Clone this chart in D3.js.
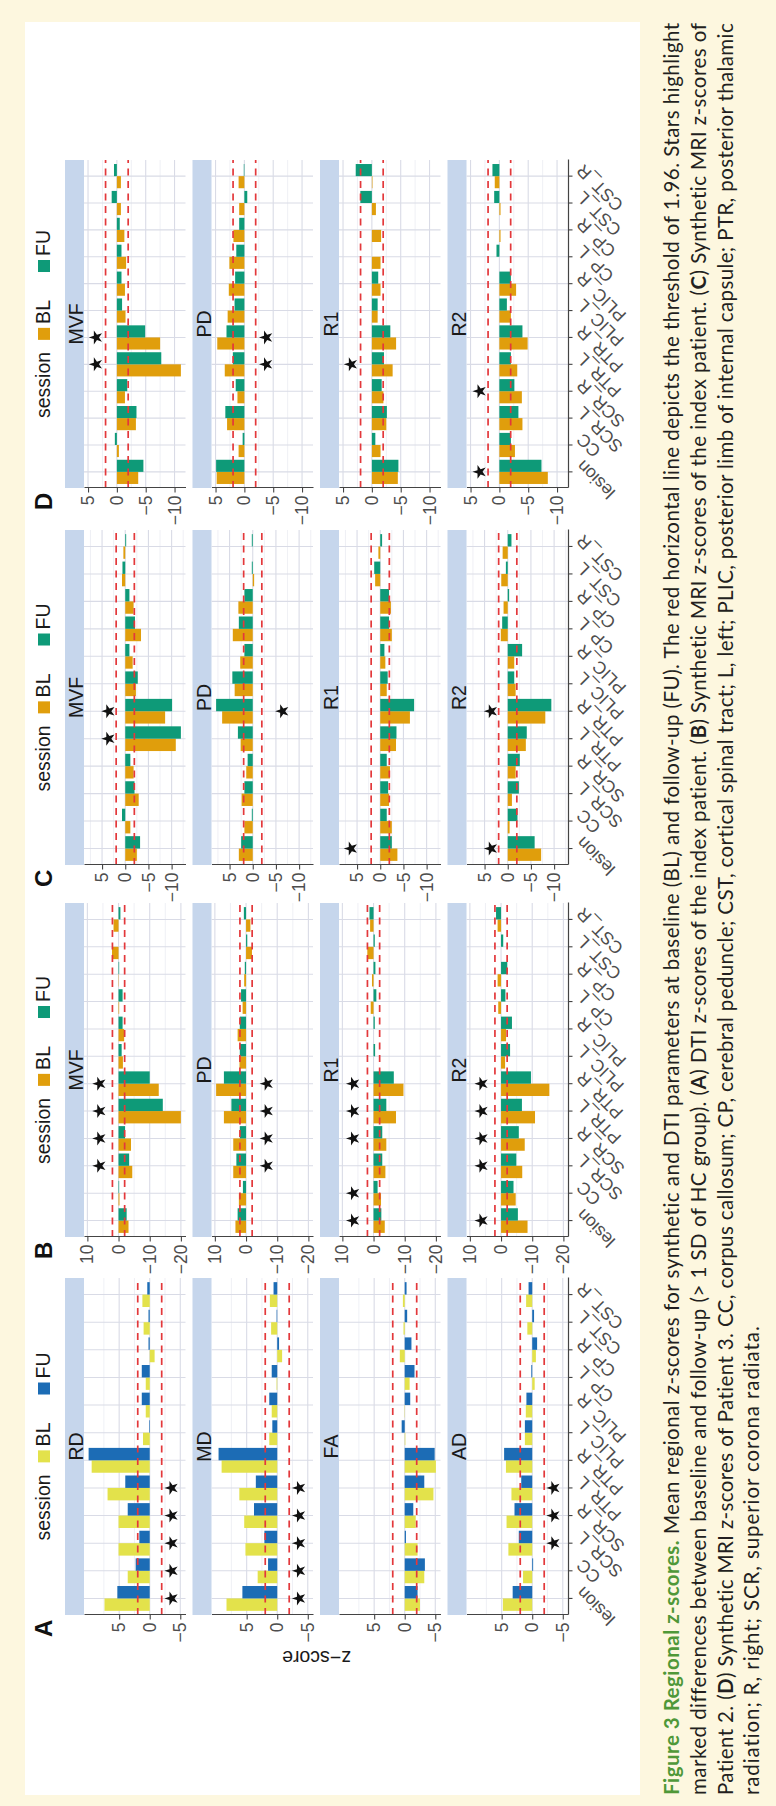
<!DOCTYPE html>
<html>
<head>
<meta charset="utf-8">
<script src="https://cdn.jsdelivr.net/npm/d3@7"></script>
<style>
  body { margin: 0; background: #fdf7df; }
  svg { display: block; }
</style>
</head>
<body>
<svg id="fig" width="776" height="1806"></svg>
<script>
// regions on the x axis of every facet
const categories = ["lesion", "CC", "SCR_L", "SCR_R", "PTR_L", "PTR_R", "PLIC_L", "PLIC_R", "CP_L", "CP_R", "CST_L", "CST_R"];
const sessions = ["BL", "FU"];

// A: DTI z-scores, index patient
const A_RD_BL = [7.4, 3.6, 5.1, 5.1, 6.9, 9.5, 1.1, 0.65, 0.65, -0.8, 1.0, 1.2];
const A_RD_FU = [5.3, 2.3, 1.7, 3.6, 4.0, 10.0, 0.1, 1.3, 1.3, 0.2, 0.2, 0.4];
const A_MD_BL = [8.3, 3.2, 5.2, 5.4, 6.2, 9.1, 1.3, 0.9, 0.1, -0.8, 1.0, 1.2];
const A_MD_FU = [5.7, 1.5, 2.1, 3.8, 3.5, 9.6, 0.8, 1.3, 0.9, -0.3, 0.1, 0.6];
const A_FA_BL = [-2.5, -3.2, -2.1, -1.8, -4.7, -5.1, -0.1, 0.05, -0.8, 0.8, 0.2, 0.3];
const A_FA_FU = [-2.1, -3.3, -0.2, -1.4, -3.2, -4.9, 0.5, -0.9, -1.6, -1.1, -0.4, -0.3];
const A_AD_BL = [4.8, 1.5, 3.9, 4.2, 3.4, 4.3, 1.2, 1.05, -0.4, -0.6, 0.8, 1.0];
const A_AD_FU = [3.2, -0.15, 2.2, 2.9, 1.8, 4.6, 1.2, 0.95, 0.15, -0.8, -0.3, 0.6];

// B: synthetic MRI, index patient
const B_MVF_BL = [-3.2, -0.3, -4.4, -4.0, -20.0, -12.9, -1.4, -1.8, -0.2, -0.1, 2.1, 1.6];
const B_MVF_FU = [-2.6, -0.2, -3.4, -2.1, -14.2, -10.0, -1.0, -1.3, -1.3, -0.2, 0.0, -0.6];
const B_PD_BL = [3.4, 2.3, 4.1, 4.1, 7.1, 9.6, 2.1, 2.7, 1.1, 0.6, -1.9, -1.4];
const B_PD_FU = [2.7, 1.0, 3.1, 2.0, 4.7, 7.1, 2.0, 2.0, 1.6, 0.4, -0.4, 0.7];
const B_R1_BL = [-3.6, -2.4, -3.8, -4.1, -7.2, -9.6, 0.0, 0.0, 0.9, 0.5, 2.0, 1.1];
const B_R1_FU = [-2.5, -1.3, -2.8, -2.8, -4.1, -6.5, -0.5, -0.4, -0.9, -0.6, -0.4, 1.3];
const B_R2_BL = [-8.5, -4.7, -6.8, -7.6, -10.9, -15.5, -1.3, -1.6, 0.9, 1.1, 0.0, 1.1];
const B_R2_FU = [-5.4, -4.0, -4.9, -5.7, -6.7, -9.6, -2.9, -3.5, -1.4, -2.0, -0.7, 1.6];

// C: synthetic MRI, patient 2
const C_MVF_BL = [-2.5, -1.1, -2.9, -1.8, -10.9, -8.6, -2.3, -1.6, -3.4, -1.8, 0.7, 0.4];
const C_MVF_FU = [-3.2, 0.7, -2.0, -1.1, -12.0, -10.1, -2.7, -0.9, -2.1, -0.9, 0.6, -0.2];
const C_PD_BL = [3.0, 1.8, 2.4, 1.4, 2.6, 6.6, 3.9, 2.7, 4.3, 3.1, -0.3, 0.0];
const C_PD_FU = [2.5, 0.2, 1.8, 1.1, 3.2, 7.9, 4.4, 1.8, 3.0, 1.8, 0.2, 0.2];
const C_R1_BL = [-3.7, -2.5, -1.9, -2.1, -3.4, -6.4, -1.4, -1.1, -2.5, -2.3, 1.1, 0.4];
const C_R1_FU = [-2.5, -1.4, -1.7, -1.4, -3.5, -7.3, -1.6, -0.9, -1.9, -1.9, 1.3, -0.4];
const C_R2_BL = [-7.2, -0.4, -0.9, -1.7, -3.9, -8.1, -1.7, -1.4, 1.5, 0.9, 1.4, 1.1];
const C_R2_FU = [-5.8, -2.1, -2.4, -2.6, -4.1, -9.4, -1.4, -3.1, 1.2, -0.3, 0.4, -0.8];

// D: synthetic MRI, patient 3
const D_MVF_BL = [-3.7, -0.35, -3.3, -1.4, -11.1, -7.5, -1.5, -1.4, -1.6, -1.3, -0.7, -0.7];
const D_MVF_FU = [-4.6, 0.35, -3.4, -1.8, -7.7, -4.9, -0.9, -0.8, -0.8, -0.5, 0.9, 0.5];
const D_PD_BL = [4.8, 1.0, 3.0, 1.2, 3.4, 4.7, 2.9, 2.7, 2.6, 1.9, 0.9, 1.0];
const D_PD_FU = [4.9, 0.3, 3.3, 1.5, 2.0, 3.1, 1.7, 1.6, 1.4, 0.9, -0.5, 0.1];
const D_R1_BL = [-4.5, -1.5, -2.5, -2.0, -3.6, -4.2, -1.0, -1.5, -1.5, -1.6, -0.7, -0.1];
const D_R1_FU = [-4.6, -0.6, -2.6, -1.7, -2.1, -3.2, -1.0, -1.1, 0.0, 0.0, 2.0, 2.8];
const D_R2_BL = [-8.4, -2.7, -4.0, -3.9, -3.1, -4.9, -2.0, -2.9, 0.0, -0.2, -0.2, 0.8];
const D_R2_FU = [-7.3, -2.0, -3.3, -2.6, -2.0, -4.0, -1.3, -2.0, 0.5, 0.0, 0.9, 1.2];

// stars: regions with marked BL/FU difference, and the z-score they sit at
const A_stars = [["lesion", "CC", "SCR_L", "SCR_R", "PTR_L"], ["lesion", "CC", "SCR_L", "SCR_R", "PTR_L"], [], ["SCR_L", "SCR_R", "PTR_L"]];
const A_starY = [-3.6, -3.6, -3.6, -3.5];
const B_stars = [["SCR_L", "SCR_R", "PTR_L", "PTR_R"], ["SCR_L", "SCR_R", "PTR_L", "PTR_R"], ["lesion", "CC", "SCR_R", "PTR_L", "PTR_R"], ["lesion", "SCR_L", "SCR_R", "PTR_L", "PTR_R"]];
const B_starY = [6.1, -6.7, 6.5, 6.2];
const C_stars = [["PTR_L", "PTR_R"], ["PTR_R"], ["lesion"], ["lesion", "PTR_R"]];
const C_starY = [3.6, -6.4, 6.3, 3.6];
const D_stars = [["PTR_L", "PTR_R"], ["PTR_L", "PTR_R"], ["PTR_L"], ["lesion", "SCR_R"]];
const D_starY = [3.6, -3.8, 3.6, 3.4];

const threshold = 1.96;
const A_ticks = [5, 0, -5];
const B_ticks = [10, 0, -10, -20];
const C_ticks = [5, 0, -5, -10];
const D_ticks = [5, 0, -5, -10];

const dtiFacets = ["RD", "MD", "FA", "AD"];
const smriFacets = ["MVF", "PD", "R1", "R2"];

const panels = [
	{ label: "A", x0: 191, w: 337, facets: dtiFacets, colors: ["#e3e24b", "#1c6cb5"], ticks: A_ticks,
		series: [[A_RD_BL, A_RD_FU], [A_MD_BL, A_MD_FU], [A_FA_BL, A_FA_FU], [A_AD_BL, A_AD_FU]], stars: A_stars, starY: A_starY },
	{ label: "B", x0: 569, w: 334, facets: smriFacets, colors: ["#e09e0c", "#0e9a78"], ticks: B_ticks,
		series: [[B_MVF_BL, B_MVF_FU], [B_PD_BL, B_PD_FU], [B_R1_BL, B_R1_FU], [B_R2_BL, B_R2_FU]], stars: B_stars, starY: B_starY },
	{ label: "C", x0: 941, w: 335, facets: smriFacets, colors: ["#e09e0c", "#0e9a78"], ticks: C_ticks,
		series: [[C_MVF_BL, C_MVF_FU], [C_PD_BL, C_PD_FU], [C_R1_BL, C_R1_FU], [C_R2_BL, C_R2_FU]], stars: C_stars, starY: C_starY },
	{ label: "D", x0: 1318, w: 328, facets: smriFacets, colors: ["#e09e0c", "#0e9a78"], ticks: D_ticks,
		series: [[D_MVF_BL, D_MVF_FU], [D_PD_BL, D_PD_FU], [D_R1_BL, D_R1_FU], [D_R2_BL, D_R2_FU]], stars: D_stars, starY: D_starY },
];

const captionLines = [
	[["Figure 3 Regional z-scores.", "title"], [" Mean regional z-scores for synthetic and DTI parameters at baseline (BL) and follow-up (FU). The red horizontal line depicts the threshold of 1.96. Stars highlight", ""]],
	[["marked differences between baseline and follow-up (> 1 SD of HC group). (", ""], ["A", "b"], [") DTI z-scores of the index patient. (", ""], ["B", "b"], [") Synthetic MRI z-scores of the index patient. (", ""], ["C", "b"], [") Synthetic MRI z-scores of", ""]],
	[["Patient 2. (", ""], ["D", "b"], [") Synthetic MRI z-scores of Patient 3. CC, corpus callosum; CP, cerebral peduncle; CST, cortical spinal tract; L, left; PLIC, posterior limb of internal capsule; PTR, posterior thalamic", ""]],
	[["radiation; R, right; SCR, superior corona radiata.", ""]],
];

// the page is laid out sideways: draw it upright, then turn it a quarter left
const W = 1806;
const svg = d3.select("#fig");
svg.append("rect").attr("width", 776).attr("height", 1806).attr("fill", "#fdf7df");
const g = svg.append("g").attr("transform", `translate(0,${W}) rotate(-90)`);

g.append("rect").attr("x", 11).attr("y", 25).attr("width", 1773).attr("height", 615).attr("fill", "#ffffff");

const rowTop = 65, rowStep = 127.5, stripH = 19, plotH = 101.5;
const font = "'Liberation Sans', Arial, sans-serif";

function drawPanel(p) {
	const x = d3.scaleBand().domain(categories).range([p.x0, p.x0 + p.w]).paddingInner(0.1).paddingOuter(0.15);
	const xs = d3.scaleBand().domain(sessions).range([0, x.bandwidth()]);

	const all = p.series.flat(2).concat(p.starY, [threshold, -threshold]);
	const [lo, hi] = d3.extent(all);
	const pad = (hi - lo) * 0.05;
	const dom = [lo - pad, hi + pad];
	const step = Math.abs(p.ticks[0] - p.ticks[1]);
	const minor = [];
	p.ticks.forEach((t) => {
		[t - step / 2, t + step / 2].forEach((m) => {
			if (m > dom[0] && m < dom[1] && !minor.includes(m)) minor.push(m);
		});
	});

	const pg = g.append("g");

	p.facets.forEach((name, k) => {
		const top = rowTop + k * rowStep;
		const pt = top + stripH;
		const pb = pt + plotH;
		const y = d3.scaleLinear().domain(dom).range([pb, pt]);
		const fg = pg.append("g");

		fg.append("rect").attr("x", p.x0).attr("y", top).attr("width", p.w).attr("height", stripH).attr("fill", "#c6d6ec");
		fg.append("text")
			.attr("x", p.x0 + p.w / 2)
			.attr("y", top + 18)
			.attr("text-anchor", "middle")
			.attr("font-family", font)
			.attr("font-size", 19.5)
			.attr("fill", "#1a1a1a")
			.text(name);

		// grid
		fg.selectAll(".minor")
			.data(minor)
			.enter()
			.append("line")
			.attr("x1", p.x0).attr("x2", p.x0 + p.w)
			.attr("y1", (d) => y(d)).attr("y2", (d) => y(d))
			.attr("stroke", "#ebecf2").attr("stroke-width", 0.8);
		fg.selectAll(".major")
			.data(p.ticks)
			.enter()
			.append("line")
			.attr("x1", p.x0).attr("x2", p.x0 + p.w)
			.attr("y1", (d) => y(d)).attr("y2", (d) => y(d))
			.attr("stroke", "#d9dbe6").attr("stroke-width", 1.1);
		fg.selectAll(".vgrid")
			.data(categories)
			.enter()
			.append("line")
			.attr("x1", (d) => x(d) + x.bandwidth() / 2).attr("x2", (d) => x(d) + x.bandwidth() / 2)
			.attr("y1", pt).attr("y2", pb)
			.attr("stroke", "#d9dbe6").attr("stroke-width", 1.1);

		// bars
		sessions.forEach((s, si) => {
			fg.selectAll(".bar" + s)
				.data(p.series[k][si])
				.enter()
				.append("rect")
				.attr("x", (d, i) => x(categories[i]) + xs(s))
				.attr("width", xs.bandwidth())
				.attr("y", (d) => y(Math.max(0, d)))
				.attr("height", (d) => Math.abs(y(d) - y(0)))
				.attr("fill", p.colors[si]);
		});

		// threshold
		fg.selectAll(".thr")
			.data([threshold, -threshold])
			.enter()
			.append("line")
			.attr("x1", p.x0).attr("x2", p.x0 + p.w)
			.attr("y1", (d) => y(d)).attr("y2", (d) => y(d))
			.attr("stroke", "#e3383b").attr("stroke-width", 1.7)
			.attr("stroke-dasharray", "7,5.5");

		// stars
		fg.selectAll(".star")
			.data(p.stars[k])
			.enter()
			.append("path")
			.attr("d", d3.symbol(d3.symbolStar, 60))
			.attr("transform", (d) => `translate(${x(d) + x.bandwidth() / 2},${y(p.starY[k])})`)
			.attr("fill", "#111");

		// y axis
		const ya = fg.append("g")
			.attr("transform", `translate(${p.x0},0)`)
			.call(d3.axisLeft(y).tickValues(p.ticks).tickSize(4.5).tickSizeOuter(0).tickPadding(3));
		ya.select(".domain").attr("stroke", "#444").attr("stroke-width", 1.2);
		ya.selectAll(".tick line").attr("stroke", "#444").attr("stroke-width", 1.1);
		ya.selectAll("text").attr("font-family", font).attr("font-size", 17.5).attr("fill", "#4d4d4d");

		if (k === p.facets.length - 1) {
			const xa = fg.append("g")
				.attr("transform", `translate(0,${pb})`)
				.call(d3.axisBottom(x).tickSize(4.5).tickSizeOuter(0));
			xa.select(".domain").attr("stroke", "#444").attr("stroke-width", 1.2);
			xa.selectAll(".tick line").attr("stroke", "#444").attr("stroke-width", 1.1);
			xa.selectAll("text")
				.attr("font-family", font)
				.attr("font-size", 17.5)
				.attr("fill", "#4d4d4d")
				.attr("text-anchor", "end")
				.attr("x", 0)
				.attr("y", 0)
				.attr("dy", "0.71em")
				.attr("transform", "translate(4,7) rotate(-45)");
		}
	});

	// panel letter
	pg.append("text")
		.attr("x", p.x0 - 22)
		.attr("y", 52)
		.attr("font-family", font)
		.attr("font-weight", "bold")
		.attr("font-size", 24)
		.attr("fill", "#111")
		.text(p.label);

	// legend
	const lg = pg.append("g");
	const lt = (txt) => lg.append("text").attr("y", 50).attr("font-family", font).attr("font-size", 19.5).attr("fill", "#1a1a1a").text(txt);
	const t0 = lt("session");
	const t1 = lt("BL");
	const t2 = lt("FU");
	const w0 = t0.node().getComputedTextLength();
	const w1 = t1.node().getComputedTextLength();
	const w2 = t2.node().getComputedTextLength();
	const key = 12, gapA = 12, gapB = 4, gapC = 28;
	const total = w0 + gapA + key + gapB + w1 + gapC + key + gapB + w2;
	let cx = p.x0 + p.w / 2 - total / 2;
	t0.attr("x", cx);
	cx += w0 + gapA;
	lg.append("rect").attr("x", cx).attr("y", 38).attr("width", key).attr("height", key).attr("fill", p.colors[0]);
	cx += key + gapB;
	t1.attr("x", cx);
	cx += w1 + gapC;
	lg.append("rect").attr("x", cx).attr("y", 38).attr("width", key).attr("height", key).attr("fill", p.colors[1]);
	cx += key + gapB;
	t2.attr("x", cx);
}

panels.forEach(drawPanel);

// shared y title
g.append("text")
	.attr("transform", `translate(155,${(rowTop + 3 * rowStep + stripH + plotH + rowTop) / 2}) rotate(-90)`)
	.attr("text-anchor", "middle")
	.attr("font-family", font)
	.attr("font-size", 19.5)
	.attr("fill", "#1a1a1a")
	.text("z\u2212score");

// caption, justified by spreading letters a little
const capX = 11, capW = 1773;
const capBase = [679, 706, 733, 759];
captionLines.forEach((parts, li) => {
	const t = g.append("text")
		.attr("x", capX)
		.attr("y", capBase[li])
		.attr("font-family", "Lato, 'Open Sans', sans-serif")
		.attr("font-size", 20.5)
		.attr("fill", "#231f20")
		.style("white-space", "pre");
	parts.forEach(([s, kind]) => {
		const ts = t.append("tspan").text(s);
		if (kind === "title") ts.attr("fill", "#4f9838").attr("font-weight", "bold");
		if (kind === "b") ts.attr("font-weight", "bold");
	});
	const full = parts.map((d) => d[0]).join("");
	const len = t.node().getComputedTextLength();
	if (li < captionLines.length - 1) {
		t.attr("letter-spacing", (capW - len) / full.length);
	} else {
		t.attr("letter-spacing", (470 - len) / full.length);
	}
});
</script>
</body>
</html>
